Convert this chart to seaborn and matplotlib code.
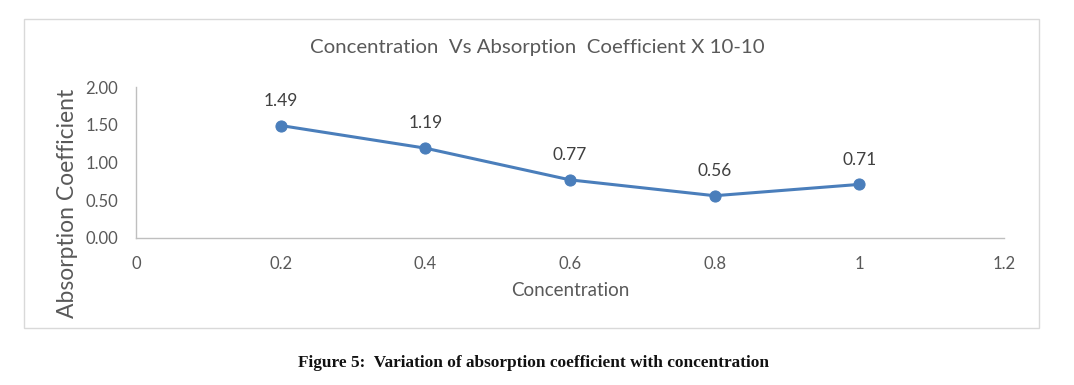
import matplotlib
matplotlib.use("Agg")
import matplotlib.pyplot as plt
import seaborn as sns
import pandas as pd
from matplotlib.patches import Rectangle

# data
concentration = [0.2, 0.4, 0.6, 0.8, 1.0]
absorption = [1.49, 1.19, 0.77, 0.56, 0.71]
x_ticks = [0, 0.2, 0.4, 0.6, 0.8, 1.0, 1.2]
x_tick_labels = ["0", "0.2", "0.4", "0.6", "0.8", "1", "1.2"]
y_ticks = [0.0, 0.5, 1.0, 1.5, 2.0]

df = pd.DataFrame({"Concentration": concentration, "Absorption": absorption})

sns.set_theme(style="white")
plt.rcParams["font.family"] = ["Lato", "DejaVu Sans"]

grey = "#595959"
blue = "#4a7ebb"
W, H = 1074, 385

fig = plt.figure(figsize=(10.74, 3.85), dpi=100)
ax = fig.add_axes([136 / W, 1 - 238 / H, (1004 - 136) / W, (238 - 87) / H])

sns.lineplot(data=df, x="Concentration", y="Absorption", ax=ax,
             color=blue, linewidth=2.2, marker="o", markersize=8,
             markeredgecolor=blue, markerfacecolor=blue)

for x, y in zip(concentration, absorption):
    ax.annotate(f"{y:.2f}", (x, y), xytext=(0, 12), textcoords="offset points",
                ha="center", va="bottom", fontsize=12.5, color="#404040")

ax.set_xlim(0, 1.2)
ax.set_ylim(0, 2.0)
ax.set_xticks(x_ticks)
ax.set_xticklabels(x_tick_labels)
ax.set_yticks(y_ticks)
ax.set_yticklabels([f"{v:.2f}" for v in y_ticks])
ax.tick_params(axis="both", length=0, labelsize=12, labelcolor=grey)
ax.tick_params(axis="x", pad=13)
ax.tick_params(axis="y", pad=13)

for side in ["top", "right"]:
    ax.spines[side].set_visible(False)
for side in ["left", "bottom"]:
    ax.spines[side].set_color("#bfbfbf")
    ax.spines[side].set_linewidth(1)

ax.set_xlabel("Concentration", fontsize=13.5, color=grey, labelpad=7)
ax.set_ylabel("")
fig.text(67 / W, 1 - 203 / H, "Absorption Coefficient", rotation=90,
         ha="center", va="center", fontsize=16.5, color=grey)
fig.text(537 / W, 1 - 47 / H, "Concentration  Vs Absorption  Coefficient X 10-10",
         ha="center", va="center", fontsize=14.7, color=grey)

# Excel-style chart border
fig.patches.append(Rectangle((24 / W, 1 - 328 / H), (1039 - 24) / W,
                             (328 - 19) / H, transform=fig.transFigure,
                             fill=False, edgecolor="#d9d9d9", linewidth=1))

fig.text(534 / W, 1 - 363 / H,
         "Figure 5:  Variation of absorption coefficient with concentration",
         ha="center", va="center", fontsize=12.4, fontweight="bold",
         family=["Liberation Serif", "DejaVu Serif"], color="#111111")

fig.savefig("out.png", dpi=100)
